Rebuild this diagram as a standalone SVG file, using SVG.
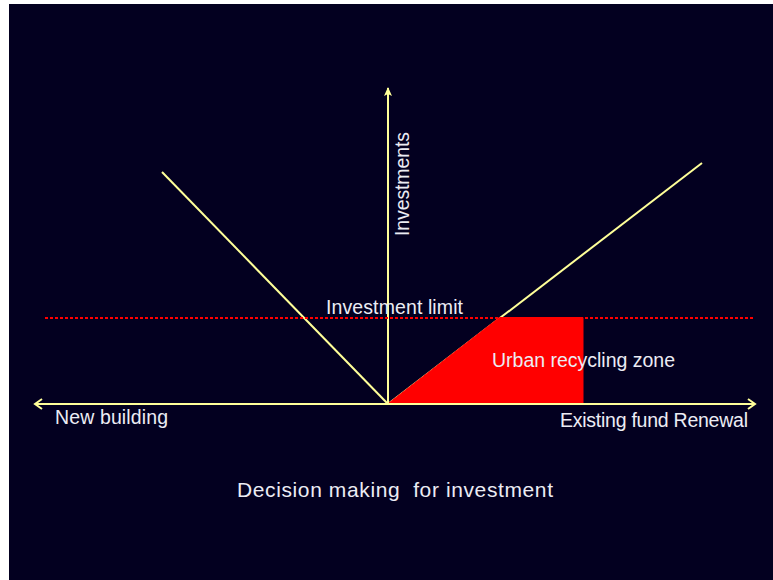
<svg xmlns="http://www.w3.org/2000/svg" width="773" height="580" viewBox="0 0 773 580">
<defs>
<style>
.ln{stroke:#ffff99;stroke-width:2;fill:none}
.tx{font-family:"Liberation Sans",Arial,sans-serif;fill:#ececf4;font-size:19.5px}
</style>
<marker id="open" markerWidth="12" markerHeight="12" refX="9" refY="6" orient="auto" markerUnits="userSpaceOnUse">
<path d="M2,1 L9,6 L2,11" fill="none" stroke="#ffff99" stroke-width="2"/>
</marker>
<marker id="tri" markerWidth="10" markerHeight="12" refX="5" refY="1" orient="0" markerUnits="userSpaceOnUse">
<path d="M5,0 L9,9 L5,7 L1,9 Z" fill="#ffff99"/>
</marker>
</defs>
<rect x="0" y="0" width="773" height="580" fill="#ffffff"/>
<rect x="9" y="4" width="764" height="576" fill="#030020"/>
<g id="connectors">
<line class="ln" x1="162" y1="172" x2="388" y2="404"/>
<line class="ln" x1="388" y1="404" x2="702" y2="163"/>
</g>
<g id="urban-zone">
<polygon points="387,404.5 499.5,317.5 583,317.5 583,404.5" fill="#ff0000" stroke="#ff0000" stroke-width="1"/>
<text class="tx" x="492" y="367" textLength="183" lengthAdjust="spacing">Urban recycling zone</text>
</g>
<g id="axes">
<line class="ln" x1="388" y1="404" x2="755" y2="404" marker-end="url(#open)"/>
<line class="ln" x1="388" y1="404" x2="35" y2="404" marker-end="url(#open)"/>
<line class="ln" x1="388" y1="404" x2="388" y2="88" marker-end="url(#tri)"/>
</g>
<g id="investment-limit">
<line x1="45" y1="318" x2="755" y2="318" stroke="#ff0000" stroke-width="2" stroke-dasharray="3 2"/>
<text class="tx" x="326" y="314" textLength="137" lengthAdjust="spacing">Investment limit</text>
</g>
<g id="labels">
<text class="tx" transform="translate(409,236) rotate(-90)" textLength="104" lengthAdjust="spacing">Investments</text>
<text class="tx" x="55" y="424" textLength="113" lengthAdjust="spacing">New building</text>
<text class="tx" x="560" y="427" textLength="188" lengthAdjust="spacing">Existing fund Renewal</text>
<text class="tx" x="237" y="497" style="font-size:21px;white-space:pre" xml:space="preserve" textLength="316" lengthAdjust="spacing">Decision making  for investment</text>
</g>
</svg>
